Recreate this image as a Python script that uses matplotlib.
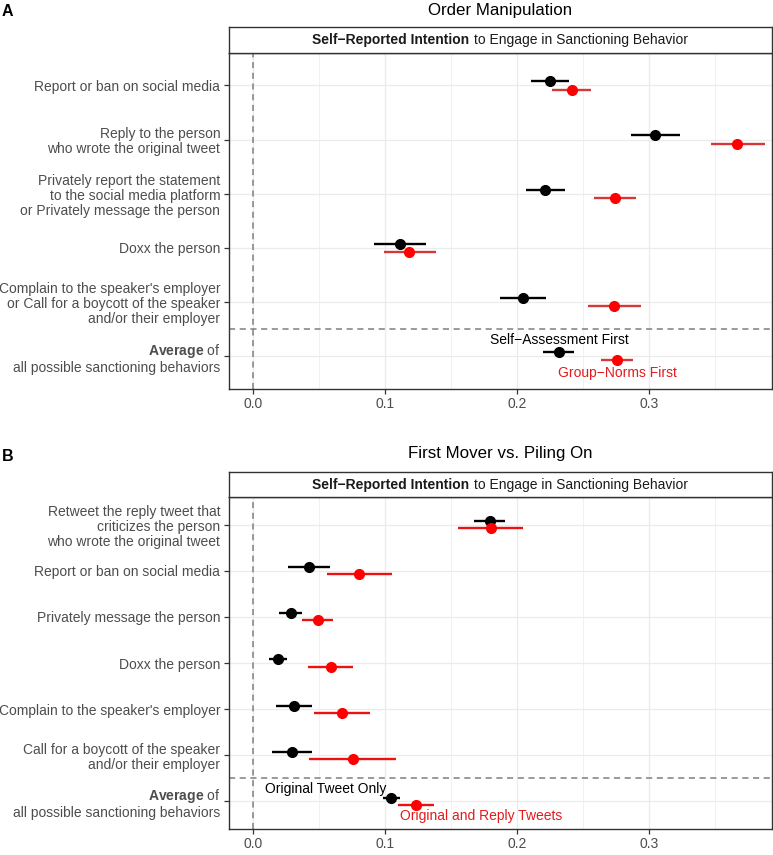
import matplotlib
matplotlib.use("Agg")
import matplotlib.pyplot as plt
from matplotlib.offsetbox import TextArea, HPacker, AnnotationBbox

plt.rcParams['font.family'] = ['Liberation Sans', 'DejaVu Sans']
plt.rcParams['mathtext.fontset'] = 'custom'
plt.rcParams['mathtext.rm'] = 'Liberation Sans'
plt.rcParams['mathtext.bf'] = 'Liberation Sans:bold'

AVG_LABEL = r"$\bf{Average}$ of" + "\nall possible sanctioning behaviors"

# ---------------- Data: Panel A ----------------
cats_a = ["Report or ban on social media",
          "Reply to the person\nwho wrote the original tweet",
          "Privately report the statement\nto the social media platform\nor Privately message the person",
          "Doxx the person",
          "Complain to the speaker's employer\nor Call for a boycott of the speaker\nand/or their employer",
          AVG_LABEL]
a_black_mean = [0.2251, 0.3050, 0.2215, 0.1109, 0.2046, 0.2318]
a_black_lo = [0.2107, 0.2864, 0.2071, 0.0915, 0.1869, 0.2201]
a_black_hi = [0.2398, 0.3235, 0.2362, 0.1306, 0.2221, 0.2431]
a_red_mean = [0.2415, 0.3673, 0.2742, 0.1184, 0.2736, 0.2759]
a_red_lo = [0.2268, 0.3474, 0.2587, 0.0990, 0.2540, 0.2637]
a_red_hi = [0.2565, 0.3879, 0.2900, 0.1383, 0.2942, 0.2881]
a_black_name = "Self\u2212Assessment First"
a_red_name = "Group\u2212Norms First"

# ---------------- Data: Panel B ----------------
cats_b = ["Retweet the reply tweet that\ncriticizes the person\nwho wrote the original tweet",
          "Report or ban on social media",
          "Privately message the person",
          "Doxx the person",
          "Complain to the speaker's employer",
          "Call for a boycott of the speaker\nand/or their employer",
          AVG_LABEL]
b_black_mean = [0.1792, 0.0425, 0.0283, 0.0187, 0.0309, 0.0293, 0.1045]
b_black_lo = [0.1674, 0.0264, 0.0192, 0.0117, 0.0173, 0.0141, 0.0987]
b_black_hi = [0.1909, 0.0582, 0.0371, 0.0256, 0.0448, 0.0448, 0.1109]
b_red_mean = [0.1800, 0.0804, 0.0489, 0.0587, 0.0669, 0.0752, 0.1235]
b_red_lo = [0.1555, 0.0558, 0.0368, 0.0414, 0.0459, 0.0419, 0.1096]
b_red_hi = [0.2043, 0.1052, 0.0606, 0.0756, 0.0885, 0.1083, 0.1371]
b_black_name = "Original Tweet Only"
b_red_name = "Original and Reply Tweets"

x_ticks = [0.0, 0.1, 0.2, 0.3]
x_tick_labels = ["0.0", "0.1", "0.2", "0.3"]

W, H = 773, 855
fig = plt.figure(figsize=(W / 100, H / 100), dpi=100)

def fx(px):
    return px / W

def fy(px):
    return 1 - px / H

BORDER = '#333333'
GRID = '#EBEBEB'
TXT = '#4D4D4D'
DODGE = 0.077

def panel(top, bottom, strip_top, cats, bm, blo, bhi, rm, rlo, rhi,
          bname, rname, bpos, rpos, red_err, title, title_y, letter, letter_y):
    left, right = 228.5, 772
    ax = fig.add_axes([fx(left), fy(bottom), fx(right - left), (bottom - top) / H])
    n = len(cats)
    ys = list(range(n))
    ax.set_xlim(-0.0189, 0.3935)
    ax.set_ylim(n - 1 + 0.6, -0.6)
    ax.set_xticks(x_ticks)
    ax.set_xticklabels(x_tick_labels)
    ax.set_xticks([0.05, 0.15, 0.25, 0.35], minor=True)
    ax.set_yticks(ys)
    ax.set_yticklabels(cats, linespacing=1.1)
    ax.tick_params(axis='both', which='major', length=3.5, width=0.9, color=BORDER,
                   labelcolor=TXT, labelsize=10, pad=2.5)
    ax.tick_params(axis='x', which='minor', length=0)
    ax.grid(True, which='major', color=GRID, lw=0.9, zorder=0)
    ax.grid(True, which='minor', axis='x', color=GRID, lw=0.5, zorder=0)
    ax.set_axisbelow(True)
    for s in ax.spines.values():
        s.set_color(BORDER)
        s.set_linewidth(1.0)
    ax.axvline(0, color='#7F7F7F', ls=(0, (4, 3)), lw=1.1, zorder=1)
    ax.axhline(n - 1.5, color='#7F7F7F', ls=(0, (4, 3)), lw=1.1, zorder=1)
    yb = [y - DODGE for y in ys]
    yr = [y + DODGE for y in ys]
    ax.hlines(yb, blo, bhi, color='black', lw=1.7, zorder=3)
    ax.plot(bm, yb, 'o', color='black', ms=7, zorder=4)
    ax.hlines(yr, rlo, rhi, color=red_err, lw=1.7, zorder=5)
    ax.plot(rm, yr, 'o', color='#FF0000', ms=7, zorder=6)
    ax.text(bpos[0], n - 1 - bpos[1], bname, ha='center', va='center', fontsize=10,
            color='black', zorder=7)
    ax.text(rpos[0], n - 1 + rpos[1], rname, ha='center', va='center', fontsize=10,
            color='#E41A1C', zorder=7)
    # strip
    sx = fig.add_axes([fx(left), fy(top), fx(right - left), (top - strip_top) / H])
    sx.set_xticks([])
    sx.set_yticks([])
    for s in sx.spines.values():
        s.set_color(BORDER)
        s.set_linewidth(1.0)
    t1 = TextArea("Self\u2212Reported Intention",
                  textprops=dict(fontsize=10, fontweight='bold', color='#1A1A1A'))
    t2 = TextArea("to Engage in Sanctioning Behavior",
                  textprops=dict(fontsize=10, color='#1A1A1A'))
    pack = HPacker(children=[t1, t2], sep=3.5, pad=0, align='baseline')
    ab = AnnotationBbox(pack, (0.5, 0.5), xycoords='axes fraction', frameon=False,
                        box_alignment=(0.5, 0.5))
    sx.add_artist(ab)
    fig.text(fx((left + right) / 2), fy(title_y), title, ha='center', va='center',
             fontsize=12.2, color='black')
    fig.text(fx(2), fy(letter_y), letter, ha='left', va='center', fontsize=11.5,
             fontweight='bold', color='black')
    return ax

panel(53, 388.5, 27, cats_a, a_black_mean, a_black_lo, a_black_hi,
      a_red_mean, a_red_lo, a_red_hi, a_black_name, a_red_name,
      (0.2318, 0.30), (0.2759, 0.31), '#D43838', "Order Manipulation", 11, "A", 11)
panel(497, 829, 472, cats_b, b_black_mean, b_black_lo, b_black_hi,
      b_red_mean, b_red_lo, b_red_hi, b_black_name, b_red_name,
      (0.0547, 0.27), (0.1731, 0.31), '#EE1111', "First Mover vs. Piling On", 453, "B", 456)

fig.savefig("out.png", dpi=100)
